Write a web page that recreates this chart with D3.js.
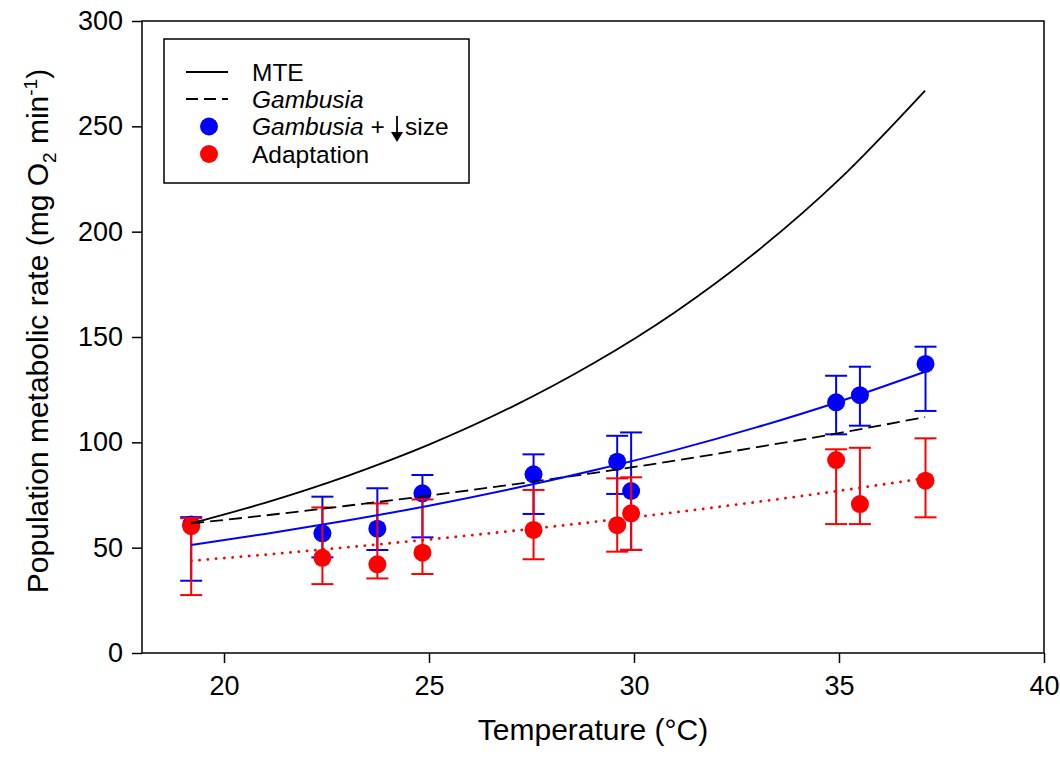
<!DOCTYPE html>
<html>
<head>
<meta charset="utf-8">
<script src="https://cdn.jsdelivr.net/npm/d3@7"></script>
<style>
  html, body { margin: 0; padding: 0; background: #fff; }
  svg { display: block; font-family: "Liberation Sans", Arial, sans-serif; }
</style>
</head>
<body>
<svg id="chart" width="1060" height="760"></svg>
<script>
// Measured temperatures (°C)
const temps = [19.2, 22.4, 23.74, 24.84, 27.55, 29.59, 29.93, 34.93, 35.51, 37.11];

// Gambusia + reduced size: mean and error-bar limits
const sizeMean  = [61, 56.8, 59, 75.8, 84.8, 90.8, 76.9, 119, 122.4, 137.2];
const sizeUpper = [64.5, 74.2, 78.2, 84.5, 94.3, 103.1, 104.7, 131.6, 135.9, 145.4];
const sizeLower = [34.3, 45.4, 48.9, 54.9, 66, 75.5, 49, 103.8, 107.9, 114.9];

// Adaptation: mean and error-bar limits
const adaptMean  = [60.2, 45.2, 42.1, 47.6, 58.4, 60.7, 66.3, 91.6, 70.7, 81.8];
const adaptUpper = [64, 69.1, 71, 72.9, 77.4, 82.9, 83.4, 96.7, 97.4, 101.9];
const adaptLower = [27.5, 32.7, 35.4, 37.5, 44.5, 48.1, 48.9, 61.2, 61.2, 64.4];

// Model curves sampled along temperature
const curveTemps = [19.2, 21, 23, 25, 27, 29, 31, 33, 35, 37.1];
const mteCurve   = [61.5, 71.3, 84, 98.9, 116.6, 137.4, 161.8, 190.7, 224.7, 267];
const gambCurve  = [61.5, 65.3, 69.9, 74.7, 79.9, 85.4, 91.3, 97.7, 104.4, 112];
const sizeCurve  = [51.3, 56.5, 62.9, 69.9, 77.8, 86.6, 96.3, 107.2, 119.3, 133.5];
const adaptCurve = [43.8, 46.7, 50.2, 53.9, 57.9, 62.2, 66.8, 71.7, 77.0, 83];

const xTicks = [20, 25, 30, 35, 40];
const yTicks = [0, 50, 100, 150, 200, 250, 300];

const svg = d3.select("#chart");
const plotL = 142, plotR = 1044, plotT = 21, plotB = 653;

const x = d3.scaleLinear().domain([18, 40]).range([plotL, plotR]);
const y = d3.scaleLinear().domain([0, 300]).range([plotB, plotT]);

// frame
svg.append("rect")
  .attr("x", plotL).attr("y", plotT)
  .attr("width", plotR - plotL).attr("height", plotB - plotT)
  .attr("fill", "none").attr("stroke", "#000").attr("stroke-width", 1.5);

// axes
const xAxis = svg.append("g")
  .attr("transform", `translate(0,${plotB})`)
  .call(d3.axisBottom(x).tickValues(xTicks).tickSize(10).tickSizeOuter(0).tickPadding(13));
const yAxis = svg.append("g")
  .attr("transform", `translate(${plotL},0)`)
  .call(d3.axisLeft(y).tickValues(yTicks).tickSize(10).tickSizeOuter(0).tickPadding(9));
[xAxis, yAxis].forEach(g => {
  g.select(".domain").remove();
  g.selectAll("line").attr("stroke", "#000").attr("stroke-width", 1.5);
  g.selectAll("text").attr("fill", "#000").style("font-size", "27px")
    .style("font-family", "'Liberation Sans', Arial, sans-serif");
});

// axis titles
svg.append("text")
  .attr("x", (plotL + plotR) / 2).attr("y", 740)
  .attr("text-anchor", "middle")
  .style("font-size", "30px")
  .text("Temperature (°C)");

const yTitle = svg.append("text")
  .attr("transform", `translate(48,${(plotT + plotB) / 2 - 6}) rotate(-90)`)
  .attr("text-anchor", "middle")
  .style("font-size", "30px");
yTitle.append("tspan").text("Population metabolic rate (mg O");
yTitle.append("tspan").attr("dy", 8).style("font-size", "19px").text("2");
yTitle.append("tspan").attr("dy", -8).text(" min");
yTitle.append("tspan").attr("dy", -11).style("font-size", "19px").text("-1");
yTitle.append("tspan").attr("dy", 11).text(")");

// error bars + points
function drawSeries(mean, lo, hi, color) {
  const g = svg.append("g");
  const cap = 11;
  temps.forEach((t, i) => {
    const cx = x(t);
    g.append("line").attr("x1", cx).attr("x2", cx)
      .attr("y1", y(lo[i])).attr("y2", y(hi[i]))
      .attr("stroke", color).attr("stroke-width", 2);
    [lo[i], hi[i]].forEach(v => {
      g.append("line").attr("x1", cx - cap).attr("x2", cx + cap)
        .attr("y1", y(v)).attr("y2", y(v))
        .attr("stroke", color).attr("stroke-width", 2);
    });
  });
  g.selectAll("circle").data(mean).join("circle")
    .attr("cx", (d, i) => x(temps[i])).attr("cy", d => y(d))
    .attr("r", 9).attr("fill", color);
}
drawSeries(sizeMean, sizeLower, sizeUpper, "#0000ff");
drawSeries(adaptMean, adaptLower, adaptUpper, "#ff0000");

// model curves on top
const line = d3.line()
  .x((d, i) => x(curveTemps[i]))
  .y(d => y(d))
  .curve(d3.curveMonotoneX);

svg.append("path").attr("d", line(mteCurve))
  .attr("fill", "none").attr("stroke", "#000").attr("stroke-width", 1.8);
svg.append("path").attr("d", line(gambCurve))
  .attr("fill", "none").attr("stroke", "#000").attr("stroke-width", 1.8)
  .attr("stroke-dasharray", "13,6");
svg.append("path").attr("d", line(sizeCurve))
  .attr("fill", "none").attr("stroke", "#0000ff").attr("stroke-width", 2);
svg.append("path").attr("d", line(adaptCurve))
  .attr("fill", "none").attr("stroke", "#ff0000").attr("stroke-width", 2.8)
  .attr("stroke-linecap", "round").attr("stroke-dasharray", "0.1,8.2");

// legend
const lg = svg.append("g");
lg.append("rect").attr("x", 164).attr("y", 39).attr("width", 305).attr("height", 144)
  .attr("fill", "#fff").attr("stroke", "#000").attr("stroke-width", 1.5);
const rowY = [72, 99, 126.5, 154];
const textX = 252;
lg.append("line").attr("x1", 186).attr("x2", 228).attr("y1", rowY[0]).attr("y2", rowY[0])
  .attr("stroke", "#000").attr("stroke-width", 1.8);
lg.append("line").attr("x1", 186).attr("x2", 228).attr("y1", rowY[1]).attr("y2", rowY[1])
  .attr("stroke", "#000").attr("stroke-width", 1.8).attr("stroke-dasharray", "12,6");
lg.append("circle").attr("cx", 209).attr("cy", rowY[2]).attr("r", 9).attr("fill", "#0000ff");
lg.append("circle").attr("cx", 209).attr("cy", rowY[3]).attr("r", 9).attr("fill", "#ff0000");

const fs = "24.5px";
lg.append("text").attr("x", textX).attr("y", rowY[0] + 8.5).style("font-size", fs).text("MTE");
lg.append("text").attr("x", textX).attr("y", rowY[1] + 8.5).style("font-size", fs)
  .style("font-style", "italic").text("Gambusia");
const t3 = lg.append("text").attr("x", textX).attr("y", rowY[2] + 8.5).style("font-size", fs);
t3.append("tspan").style("font-style", "italic").text("Gambusia");
t3.append("tspan").text(" +");
lg.append("text").attr("x", 405).attr("y", rowY[2] + 8.5).style("font-size", fs).text("size");
// downward arrow
lg.append("line").attr("x1", 397).attr("x2", 397).attr("y1", 116).attr("y2", 134)
  .attr("stroke", "#000").attr("stroke-width", 1.8);
lg.append("path").attr("d", "M391,132 L403,132 L397,142 Z").attr("fill", "#000");
lg.append("text").attr("x", textX).attr("y", rowY[3] + 8.5).style("font-size", fs).text("Adaptation");
</script>
</body>
</html>
